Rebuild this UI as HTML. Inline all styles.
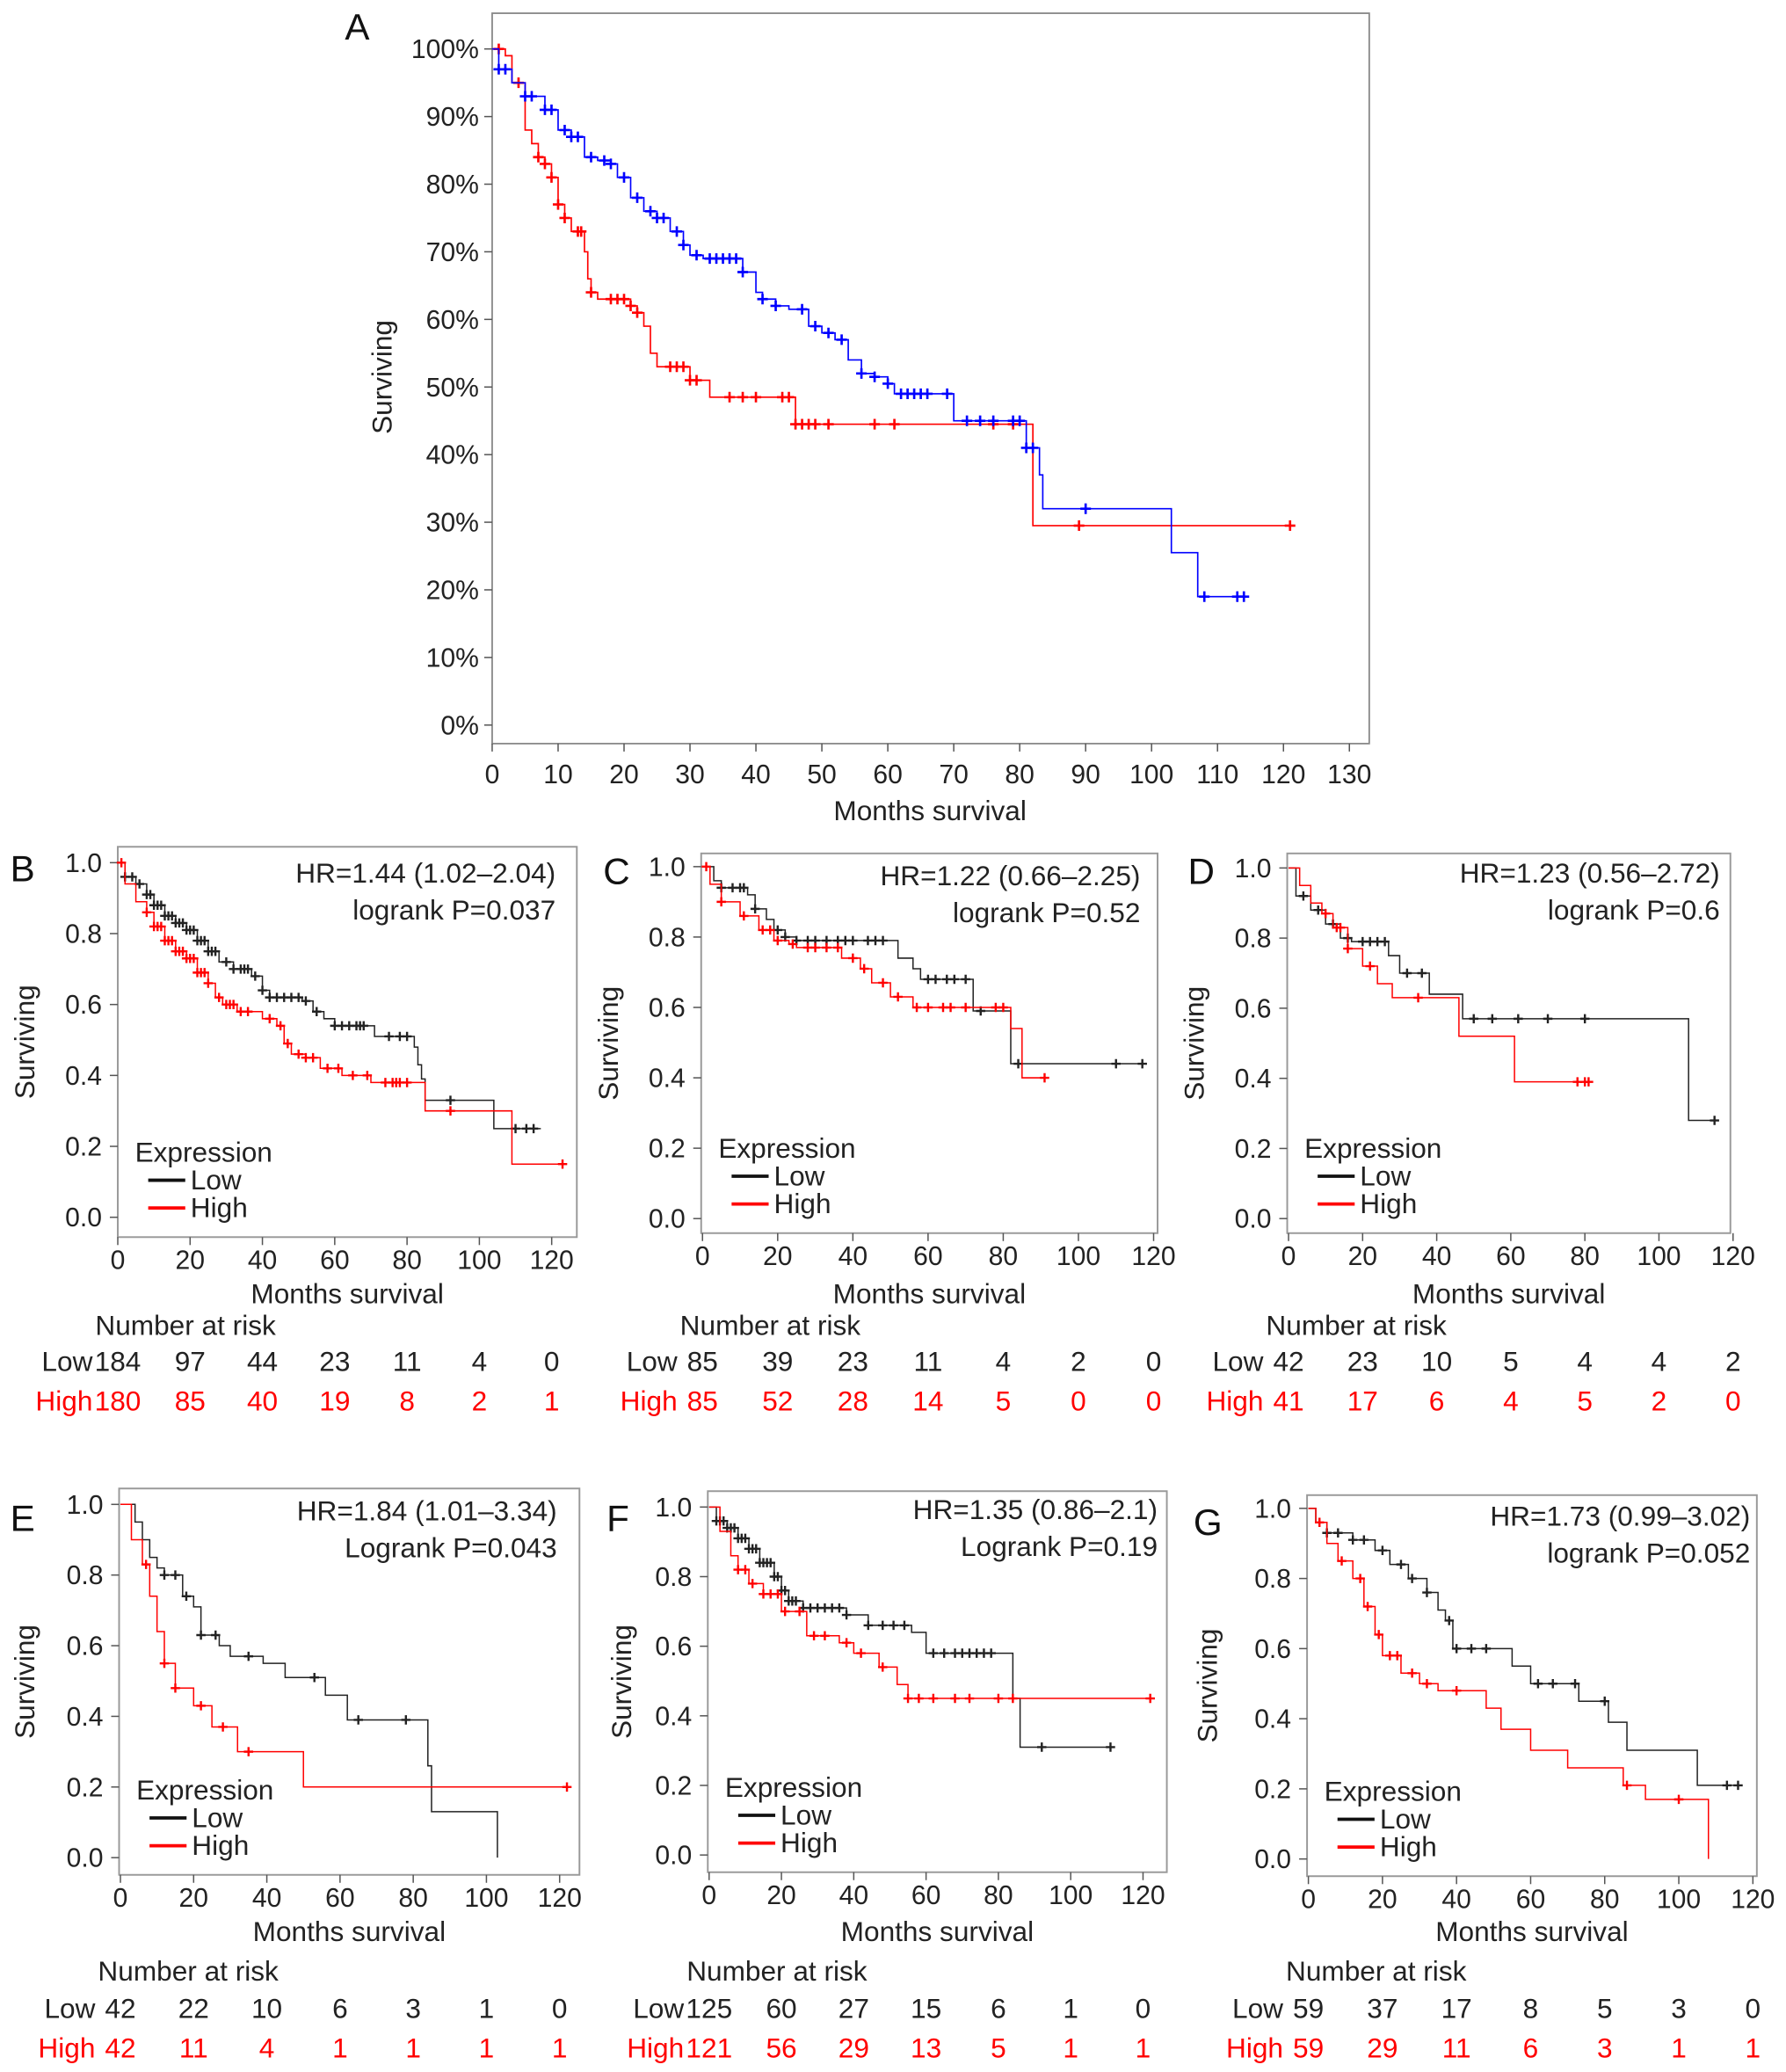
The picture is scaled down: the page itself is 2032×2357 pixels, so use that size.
<!DOCTYPE html>
<html><head><meta charset="utf-8"><style>
html,body{margin:0;padding:0;background:#fff}
svg{display:block}
text{font-family:"Liberation Sans",Arial,sans-serif}
</style></head><body>
<svg id="fig" width="2032" height="2357" viewBox="0 0 1350 1566" xmlns="http://www.w3.org/2000/svg"></svg>
<script>
// ---------- DATA ----------
// Panel A
const aBlueT=[0,1,3,5,8,10,12,14,16,18,19,21,23,25,27,29,30,32,38,40,41,43,45,48,50,52,54,56,58,60,61,70,81,83,83.5,103,107,114];
const aBlueS=[1,.97,.95,.93,.91,.88,.87,.84,.835,.83,.81,.78,.76,.75,.73,.71,.695,.69,.67,.64,.63,.62,.615,.59,.58,.57,.54,.52,.515,.505,.49,.45,.41,.37,.32,.255,.19,.19];
const aBlueC=[1,2,5,6,8,9,11,12,13,15,17,18,20,22,24,25,26,28,29,31,33,34,35,36,37,38,41,43,47,49,51,53,56,58,60,62,63,64,65,66,69,72,74,76,79,80,81,82,90,108,113,114];
const aRedT=[0,2,3,5,6,7,8,9,10,11,12,14,14.5,15,16,21,22,23,24,25,30,33,46,82,121];
const aRedS=[1,.99,.95,.88,.86,.84,.83,.81,.77,.75,.73,.70,.66,.64,.63,.62,.61,.59,.55,.53,.51,.485,.445,.295,.295];
const aRedC=[1,4,7,8,9,10,11,13,13.5,15,18,19,20,21,22,27,28,29,30,31,36,38,40,44,45,46,47,48,49,51,58,61,76,79,89,121];
const aYTicks=["0%","10%","20%","30%","40%","50%","60%","70%","80%","90%","100%"];
const aXTicks=[0,10,20,30,40,50,60,70,80,90,100,110,120,130];
// Panel B
const bLowT=[0,2,5,8,10,13,16,19,22,25,28,32,37,40,42,51,54,57,60,71,82,83,84,85,104,117];
const bLowS=[1,.96,.94,.91,.88,.85,.83,.81,.78,.75,.72,.70,.68,.64,.62,.61,.58,.56,.54,.51,.48,.43,.39,.33,.25,.25];
const bLowC=[2,4,6,8,9,10,11,12,13,14,15,16,17,18,19,20,21,22,23,24,25,26,27,30,32,34,35,36,38,40,42,44,46,48,50,52,55,60,62,64,66,67,68,75,78,80,92,110,113,115];
const bHighT=[0,2,5,8,10,13,16,19,22,25,27,29,33,40,44,46,48,52,56,62,70,85,109,123];
const bHighS=[1,.94,.89,.86,.82,.78,.75,.73,.69,.66,.62,.60,.58,.56,.54,.49,.46,.45,.42,.40,.38,.30,.15,.15];
const bHighC=[1,8,10,11,12,13,14,15,16,17,18,19,20,21,22,23,24,25,28,30,31,32,34,36,42,45,47,50,52,54,58,61,65,69,74,76,77,78,80,92,123];
const bRiskLow=[184,97,44,23,11,4,0];
const bRiskHigh=[180,85,40,19,8,2,1];
// Panel C
const cLowT=[0,3,5,12,14,17,19,22,25,52,56,58,72,82,117];
const cLowS=[1,.96,.94,.92,.88,.85,.82,.80,.79,.74,.71,.68,.59,.44,.44];
const cLowC=[5,8,10,11,14,20,22,25,28,30,33,36,38,40,44,46,48,60,62,65,67,70,74,84,110,117];
const cHighT=[0,2,5,10,15,19,23,25,37,42,45,50,56,82,85,91];
const cHighS=[1,.95,.90,.86,.82,.79,.78,.77,.74,.71,.67,.63,.60,.54,.40,.40];
const cHighC=[1,5,11,16,18,20,24,28,30,33,36,40,43,48,52,57,60,64,66,70,78,80,91];
const cRiskLow=[85,39,23,11,4,2,0];
const cRiskHigh=[85,52,28,14,5,0,0];
// Panel D
const dLowT=[0,2,6,10,14,17,27,30,38,47,108,115];
const dLowS=[1,.92,.88,.84,.80,.79,.75,.70,.64,.57,.28,.28];
const dLowC=[4,8,12,16,20,22,24,26,32,36,50,55,62,70,80,115];
const dHighT=[0,3,6,9,12,16,20,24,28,46,61,81];
const dHighS=[1,.95,.90,.87,.83,.77,.72,.67,.63,.52,.39,.39];
const dHighC=[10,13,14,16,22,35,78,80,81];
const dRiskLow=[42,23,10,5,4,4,2];
const dRiskHigh=[41,17,6,4,5,2,0];
// Panel E
const eLowT=[0,4,6,8,10,12,17,20,22,27,30,39,45,56,62,84,85,103];
const eLowS=[1,.95,.90,.85,.82,.80,.74,.71,.63,.60,.57,.55,.51,.46,.39,.26,.13,0];
const eLowC=[12,15,18,22,26,35,53,65,78];
const eHighT=[0,3,6,8,10,12,15,20,25,32,50,122];
const eHighS=[1,.90,.83,.74,.64,.55,.48,.43,.37,.30,.20,.20];
const eHighC=[7,12,15,22,28,35,122];
const eRiskLow=[42,22,10,6,3,1,0];
const eRiskHigh=[42,11,4,1,1,1,1];
// Panel F
const fLowT=[0,2,5,8,11,14,18,20,22,26,38,44,56,60,84,86,111];
const fLowS=[1,.96,.94,.91,.88,.84,.80,.76,.73,.71,.69,.66,.64,.58,.45,.31,.31];
const fLowC=[2,3,4,5,6,7,8,9,10,11,12,13,14,15,16,17,18,19,20,21,22,23,24,26,28,30,32,34,36,38,44,48,51,54,62,65,68,70,72,74,76,78,92,111];
const fHighT=[0,3,6,8,11,15,20,27,36,40,47,52,55,122];
const fHighS=[1,.93,.86,.82,.78,.75,.70,.63,.61,.58,.54,.49,.45,.45];
const fHighC=[8,10,12,15,17,19,21,25,29,32,38,42,48,55,58,62,68,72,80,84,122];
const fRiskLow=[125,60,27,15,6,1,0];
const fRiskHigh=[121,56,29,13,5,1,1];
// Panel G
const gLowT=[0,2,5,12,18,22,27,32,35,37,39,55,60,73,81,86,105,116];
const gLowS=[1,.96,.93,.91,.88,.84,.80,.76,.71,.68,.60,.55,.50,.45,.39,.31,.21,.21];
const gLowC=[5,8,12,15,20,25,28,32,38,40,44,48,62,66,72,80,113,116];
const gHighT=[0,2,5,8,12,15,18,20,25,30,35,48,52,60,70,85,91,108];
const gHighS=[1,.96,.90,.85,.80,.72,.64,.58,.53,.50,.48,.43,.37,.31,.26,.21,.17,0];
const gHighC=[3,9,14,16,19,22,24,28,32,40,86,100];
const gRiskLow=[59,37,17,8,5,3,0];
const gRiskHigh=[59,29,11,6,3,1,1];
const smallYTicks=["0.0","0.2","0.4","0.6","0.8","1.0"];
const smallXTicks=[0,20,40,60,80,100,120];

// ---------- DRAWING ----------
const NS="http://www.w3.org/2000/svg";
const svg=document.getElementById('fig');
function mk(tag,attrs,parent,txt){const e=document.createElementNS(NS,tag);for(const k in attrs)e.setAttribute(k,attrs[k]);if(txt!==undefined)e.textContent=txt;(parent||svg).appendChild(e);return e;}
function stepPath(T,S,sx,sy){let d='M'+sx(T[0])+','+sy(S[0]);for(let i=1;i<T.length;i++){d+=' H'+sx(T[i])+' V'+sy(S[i]);}return d;}
function survAt(T,S,t){let s=S[0];for(let i=0;i<T.length;i++){if(T[i]<=t)s=S[i];}return s;}
function drawCurve(g,T,S,C,sx,sy,color,name,size,w){
  const p=mk('path',{d:stepPath(T,S,sx,sy),fill:'none',stroke:color,'stroke-width':w},g);
  
  
  C.forEach(t=>{const x=sx(t),y=sy(survAt(T,S,t));
    const m=mk('path',{d:`M${x-size},${y} H${x+size} M${x},${y-size} V${y+size}`,stroke:color,'stroke-width':w*1.6},g);
    
    });
}
function txt(g,x,y,s,size,anchor,color,name,extra){const t=mk('text',Object.assign({x:x,y:y,'font-size':size,'text-anchor':anchor||'start',fill:color||'#111'},extra||{}),g,s);return t;}

// Panel A
(function(){
  const g=mk('g',{});
  const L=372,R=1035,T=10,B=562;
  const sx=v=>L+v*(1020-L)/130, sy=v=>548-v*(548-37);
  mk('rect',{x:L,y:T,width:R-L,height:B-T,fill:'none',stroke:'#888','stroke-width':1.2},g);
  txt(g,270,30,'A',28,'middle','#111','panel-label-a');
  aYTicks.forEach((l,i)=>{const y=sy(i/10);mk('line',{x1:L-6,x2:L,y1:y,y2:y,stroke:'#555'},g);txt(g,362,y+7,l,20,'end','#222','y-tick-label');});
  aXTicks.forEach(v=>{const x=sx(v);mk('line',{x1:x,x2:x,y1:B,y2:B+6,stroke:'#555'},g);txt(g,x,592,String(v),20,'middle','#222','x-tick-label');});
  txt(g,703,620,'Months survival',21,'middle','#222','x-axis-title');
  txt(g,296,285,'Surviving',21,'middle','#222','y-axis-title',{transform:'rotate(-90 296 285)'});
  drawCurve(g,aRedT,aRedS,aRedC,sx,sy,'#f00','high',4,1.1);
  drawCurve(g,aBlueT,aBlueS,aBlueC,sx,sy,'#00f','low',4,1.1);
})();

const panels=[
 {id:'b',L:89,R:436,T:640,B:935,x0:89,x120:417,y1:652,y0:920,letter:[17,656],hr:'HR=1.44 (1.02–2.04)',lr:'logrank P=0.037',hrX:420,hrY:667,surX:26,rowY:[985,1009,1036,1066],low:[bLowT,bLowS,bLowC],high:[bHighT,bHighS,bHighC],rl:bRiskLow,rh:bRiskHigh},
 {id:'c',L:530,R:875,T:645,B:932,x0:531,x120:872,y1:655,y0:921,letter:[466,658],hr:'HR=1.22 (0.66–2.25)',lr:'logrank P=0.52',hrX:862,hrY:669,surX:467,rowY:[985,1009,1036,1066],low:[cLowT,cLowS,cLowC],high:[cHighT,cHighS,cHighC],rl:cRiskLow,rh:cRiskHigh},
 {id:'d',L:973,R:1308,T:645,B:932,x0:974,x120:1310,y1:656,y0:921,letter:[908,658],hr:'HR=1.23 (0.56–2.72)',lr:'logrank P=0.6',hrX:1300,hrY:667,surX:910,rowY:[985,1009,1036,1066],low:[dLowT,dLowS,dLowC],high:[dHighT,dHighS,dHighC],rl:dRiskLow,rh:dRiskHigh},
 {id:'e',L:90,R:438,T:1125,B:1417,x0:91,x120:423,y1:1137,y0:1404,letter:[17,1147],hr:'HR=1.84 (1.01–3.34)',lr:'Logrank P=0.043',hrX:421,hrY:1149,surX:26,rowY:[1467,1497,1525,1555],low:[eLowT,eLowS,eLowC],high:[eHighT,eHighS,eHighC],rl:eRiskLow,rh:eRiskHigh},
 {id:'f',L:535,R:882,T:1127,B:1415,x0:536,x120:864,y1:1139,y0:1402,letter:[467,1147],hr:'HR=1.35 (0.86–2.1)',lr:'Logrank P=0.19',hrX:875,hrY:1148,surX:477,rowY:[1467,1497,1525,1555],low:[fLowT,fLowS,fLowC],high:[fHighT,fHighS,fHighC],rl:fRiskLow,rh:fRiskHigh},
 {id:'g',L:988,R:1328,T:1130,B:1418,x0:989,x120:1325,y1:1140,y0:1405,letter:[913,1150],hr:'HR=1.73 (0.99–3.02)',lr:'logrank P=0.052',hrX:1323,hrY:1153,surX:920,rowY:[1467,1497,1525,1555],low:[gLowT,gLowS,gLowC],high:[gHighT,gHighS,gHighC],rl:gRiskLow,rh:gRiskHigh}
];
panels.forEach(p=>{
  const g=mk('g',{});
  const sx=v=>p.x0+v*(p.x120-p.x0)/120, sy=v=>p.y0-v*(p.y0-p.y1);
  mk('rect',{x:p.L,y:p.T,width:p.R-p.L,height:p.B-p.T,fill:'none',stroke:'#999','stroke-width':1.3},g);
  txt(g,p.letter[0],p.letter[1]+10,p.id.toUpperCase(),28,'middle','#111','panel-label-'+p.id);
  smallYTicks.forEach((l,i)=>{const y=sy(i/5);mk('line',{x1:p.L-6,x2:p.L,y1:y,y2:y,stroke:'#555'},g);txt(g,p.L-12,y+7,l,20,'end','#222','y-tick-label');});
  smallXTicks.forEach(v=>{const x=sx(v);mk('line',{x1:x,x2:x,y1:p.B,y2:p.B+6,stroke:'#555'},g);txt(g,x,p.B+24,String(v),20,'middle','#222','x-tick-label');});
  txt(g,(p.L+p.R)/2,p.rowY[0],'Months survival',21,'middle','#222','x-axis-title');
  txt(g,p.surX,(p.T+p.B)/2,'Surviving',21,'middle','#222','y-axis-title',{transform:`rotate(-90 ${p.surX} ${(p.T+p.B)/2})`});
  txt(g,p.hrX,p.hrY,p.hr,21,'end','#222','hazard-ratio');
  txt(g,p.hrX,p.hrY+28,p.lr,21,'end','#222','logrank-p');
  drawCurve(g,p.low[0],p.low[1],p.low[2],sx,sy,'#222','low',3.5,1);
  drawCurve(g,p.high[0],p.high[1],p.high[2],sx,sy,'#f00','high',3.5,1);
  const lx=p.L+13;
  txt(g,lx,p.B-57,'Expression',21,'start','#222','legend-title');
  mk('line',{x1:lx+10,x2:lx+38,y1:p.B-43,y2:p.B-43,stroke:'#111','stroke-width':2.5},g);
  txt(g,lx+42,p.B-36,'Low',21,'start','#222','legend-entry-low');
  mk('line',{x1:lx+10,x2:lx+38,y1:p.B-22,y2:p.B-22,stroke:'#f00','stroke-width':2.5},g);
  txt(g,lx+42,p.B-15,'High',21,'start','#222','legend-entry-high');
  txt(g,p.x0-17,p.rowY[1],'Number at risk',21,'start','#222','risk-table-title');
  txt(g,p.x0-19,p.rowY[2],'Low',21,'end','#222','risk-row-label-low');
  txt(g,p.x0-19,p.rowY[3],'High',21,'end','#f00','risk-row-label-high');
  p.rl.forEach((v,i)=>txt(g,sx(smallXTicks[i]),p.rowY[2],String(v),21,'middle','#222','risk-low-value'));
  p.rh.forEach((v,i)=>txt(g,sx(smallXTicks[i]),p.rowY[3],String(v),21,'middle','#f00','risk-high-value'));
});
</script>
</body></html>
